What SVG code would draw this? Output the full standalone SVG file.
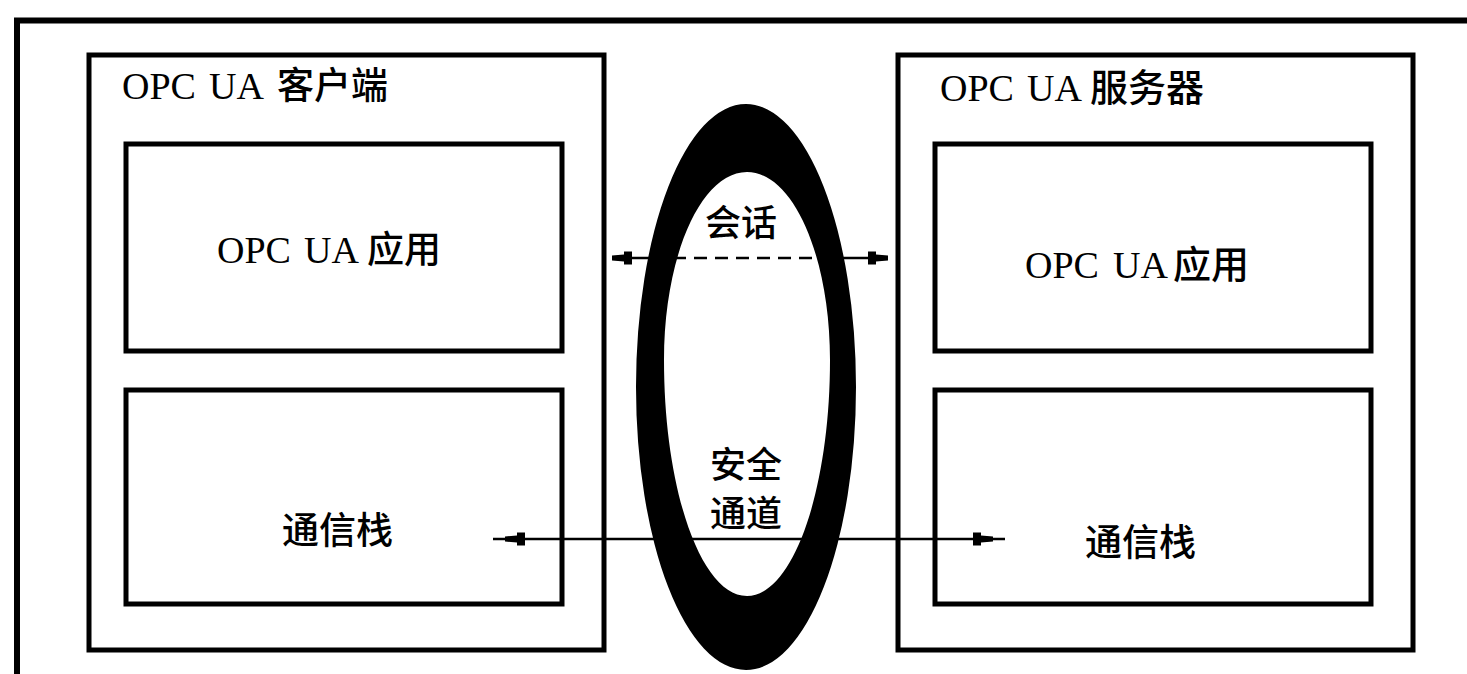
<svg xmlns="http://www.w3.org/2000/svg" width="1467" height="674" viewBox="0 0 1467 674">
<defs>
<style>
.box{fill:none;stroke:#000;stroke-width:5}
.frame{fill:none;stroke:#000;stroke-width:6}
.t{font-family:"Liberation Serif","Noto Sans CJK SC",serif;font-size:38px;fill:#000}
.k{font-family:"Noto Sans CJK SC",sans-serif;font-weight:500}
.c{font-family:"Noto Sans CJK SC",sans-serif;font-size:37px;font-weight:500;fill:#000}
.ln{fill:none;stroke:#000;stroke-width:2.5}
.dash{stroke-dasharray:13 8}
</style>
<marker id="ahTip" markerUnits="userSpaceOnUse" viewBox="0 -8 22 16" markerWidth="22" markerHeight="16" refX="20" refY="0" orient="auto-start-reverse">
<path d="M20,-2.5 L8,-3.5 L8,-6.5 L0,-6.5 L0,6.5 L8,6.5 L8,3.5 L20,2.5 Z" fill="#000"/>
</marker>
<marker id="ahOff" markerUnits="userSpaceOnUse" viewBox="0 -8 34 16" markerWidth="34" markerHeight="16" refX="32" refY="0" orient="auto-start-reverse">
<path d="M20,-2.5 L8,-3.5 L8,-6.5 L0,-6.5 L0,6.5 L8,6.5 L8,3.5 L20,2.5 Z" fill="#000"/>
</marker>
</defs>
<rect width="1467" height="674" fill="#fff"/>
<g id="frame">
<path class="frame" d="M17,674 V20.5 H1467"/>
</g>
<g id="client">
<rect class="box" x="89" y="55" width="515" height="595"/>
<text class="t" y="99"><tspan x="122">OPC</tspan><tspan x="209">UA</tspan><tspan x="277" class="k" font-size="37">客户端</tspan></text>
</g>
<g id="client-app">
<rect class="box" x="126" y="144" width="436" height="207"/>
<text class="t" y="263"><tspan x="217">OPC</tspan><tspan x="304">UA</tspan><tspan x="367" class="k" font-size="37">应用</tspan></text>
</g>
<g id="client-stack">
<rect class="box" x="126" y="390" width="436" height="214"/>
<text class="c" x="282" y="544">通信栈</text>
</g>
<g id="server">
<rect class="box" x="898" y="55" width="515" height="595"/>
<text class="t" y="101"><tspan x="940">OPC</tspan><tspan x="1027">UA</tspan><tspan x="1090" class="k" font-size="38">服务器</tspan></text>
</g>
<g id="server-app">
<rect class="box" x="935" y="144" width="436" height="207"/>
<text class="t" y="278"><tspan x="1025">OPC</tspan><tspan x="1113">UA</tspan><tspan x="1173" class="k" font-size="38">应用</tspan></text>
</g>
<g id="server-stack">
<rect class="box" x="935" y="390" width="436" height="214"/>
<text class="c" x="1085" y="556">通信栈</text>
</g>
<g id="connectors">
<line class="ln" x1="612" y1="258" x2="652" y2="258" marker-start="url(#ahTip)"/>
<line class="ln dash" x1="652" y1="258" x2="842" y2="258"/>
<line class="ln" x1="842" y1="258" x2="888" y2="258" marker-end="url(#ahTip)"/>
<line class="ln" x1="493" y1="539" x2="1005" y2="539" marker-start="url(#ahOff)" marker-end="url(#ahOff)"/>
</g>
<g id="secure-channel">
<path fill="#000" fill-rule="evenodd" d="M636,387 A110,283 0 1,0 856,387 A110,283 0 1,0 636,387 Z M664,360 C664,256 701,172 747,172 C793,172 830,256 830,360 C830,490 793,596 747,596 C701,596 664,490 664,360 Z"/>
<text class="c" x="705" y="236" style="font-size:36px">会话</text>
<text class="c" x="710" y="478" style="font-size:36px">安全</text>
<text class="c" x="710" y="527" style="font-size:36px">通道</text>
</g>
</svg>
